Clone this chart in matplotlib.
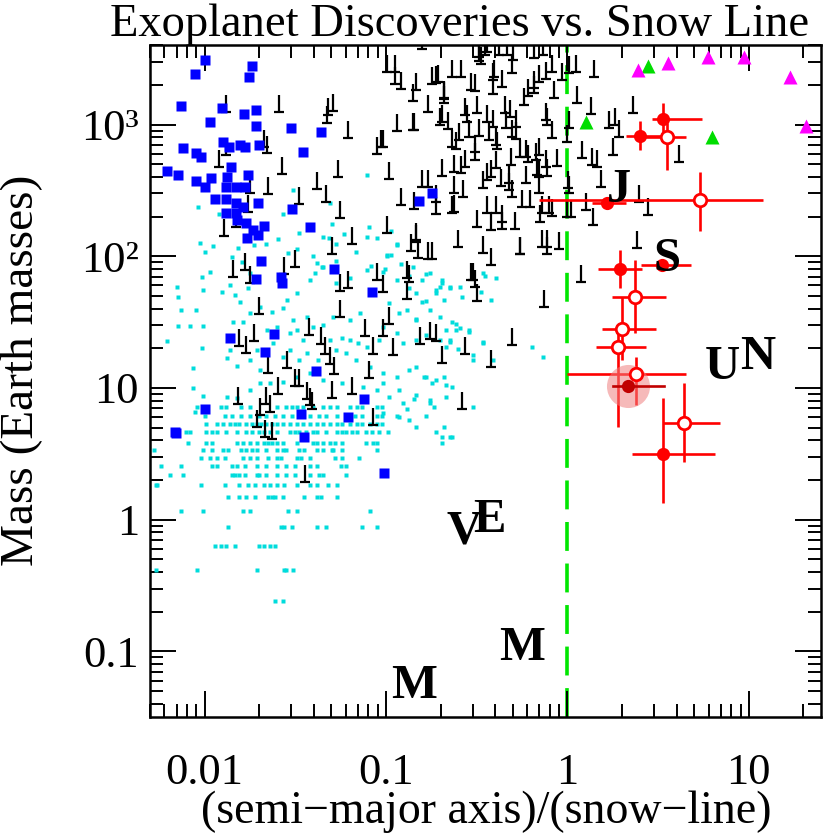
import numpy as np
import matplotlib
matplotlib.use("Agg")
from matplotlib import pyplot as plt
from matplotlib.path import Path
from matplotlib.ticker import NullFormatter, FixedLocator, LogLocator

plt.rcParams['font.family'] = ['Liberation Serif', 'DejaVu Serif']

# all positions are log10((semi-major axis)/(snow line)) and log10(mass / Earth masses)

#### Kepler candidates (cyan) : quantised rows + scatter ####
kep_row_logm = [-0.617, -0.382, -0.197, -0.053, 0.066, 0.170, 0.261, 0.339,
                0.408, 0.471, 0.529, 0.585, 0.668, 0.724, 0.790, 0.858]
kep_row_loga = [
    [-1.61, -1.57],
    [-2.27, -2.04, -1.71, -1.56, -1.55, -1.51],
    [-1.94, -1.91, -1.88, -1.83, -1.70, -1.67, -1.64, -1.61],
    [-1.87, -1.58, -1.56, -1.52, -1.38, -1.33, -1.13, -1.05],
    [-2.13, -2.01, -1.79, -1.75, -1.54, -1.49, -1.09],
    [-1.87, -1.81, -1.77, -1.72, -1.65, -1.63, -1.61, -1.57, -1.45, -1.38, -1.36, -1.27],
    [-2.27, -2.26, -2.02, -1.89, -1.81, -1.76, -1.72, -1.67, -1.64, -1.60, -1.56, -1.49,
     -1.42, -1.38, -1.32, -1.27],
    [-2.19, -2.12, -1.85, -1.83, -1.81, -1.78, -1.71, -1.70, -1.66, -1.60, -1.55, -1.50,
     -1.42, -1.37, -1.35, -1.22],
    [-2.24, -2.13, -1.96, -1.93, -1.85, -1.82, -1.78, -1.71, -1.66, -1.60, -1.55, -1.50,
     -1.42, -1.38, -1.25, -1.22],
    [-2.02, -1.97, -1.93, -1.89, -1.79, -1.75, -1.71, -1.65, -1.60, -1.58, -1.49, -1.47,
     -1.42, -1.28, -1.24, -1.15],
    [-2.28, -2.01, -1.96, -1.90, -1.87, -1.80, -1.77, -1.74, -1.71, -1.66, -1.60, -1.57,
     -1.55, -1.48, -1.45, -1.38, -1.35, -1.30, -1.29, -1.24, -1.05],
    [-2.09, -1.99, -1.96, -1.82, -1.79, -1.75, -1.71, -1.67, -1.65, -1.63, -1.60, -1.57,
     -1.49, -1.40, -1.38, -1.35, -1.31, -1.28, -1.24, -1.11, -1.07, -1.05],
    [-2.17, -2.10, -2.08, -1.99, -1.96, -1.93, -1.88, -1.82, -1.77, -1.74, -1.70, -1.67,
     -1.64, -1.60, -1.53, -1.50, -1.48, -1.44, -1.40, -1.38, -1.33, -1.27, -1.24, -1.22,
     -1.19, -1.16, -1.11, -1.08, -1.04, -0.99],
    [-1.99, -1.93, -1.90, -1.86, -1.83, -1.81, -1.77, -1.74, -1.71, -1.69, -1.66, -1.63,
     -1.60, -1.57, -1.53, -1.49, -1.46, -1.42, -1.38, -1.35, -1.31, -1.27, -1.24, -1.20,
     -1.16, -1.13, -1.09, -1.05, -1.02],
    [-2.00, -1.89, -1.85, -1.80, -1.75, -1.70, -1.66, -1.61, -1.57, -1.52, -1.47, -1.42,
     -1.37, -1.33, -1.27, -1.22, -1.17, -1.13, -1.05, -1.02],
    [-2.04, -1.91, -1.88, -1.80, -1.75, -1.60, -1.55, -1.52, -1.49, -1.46, -1.40, -1.35,
     -1.31, -1.27, -1.20, -1.16, -1.13, -1.05, -1.02],
]

kep_loga = [-2.154, -2.149, -2.132, -2.050, -2.149, -2.083, -2.011, -2.209, -2.017, -2.066,
            -2.066, -2.011, -2.055, -2.011, -1.906, -1.862, -1.835, -1.807, -1.763, -1.752,
            -1.697, -1.631, -1.570, -1.548, -1.488, -1.421, -1.350, -1.394, -1.846, -1.791,
            -1.879, -1.824, -1.862, -1.713, -1.697, -1.752, -1.532, -1.493, -1.460, -1.532,
            -1.570, -1.477, -1.438, -1.377, -1.311, -1.245, -1.201, -1.157, -1.273, -1.218,
            -1.163, -1.107, -1.036, -1.019, -0.942, -0.909, -0.832, -0.777, -0.705, -0.650,
            -0.612, -0.540, -0.468, -0.413, -1.091, -1.019, -0.942, -0.871, -0.832, -0.777,
            -0.744, -0.678, -0.667, -1.019, -0.926, -0.832, -0.760, -0.667, -0.909, -0.981,
            -1.052, -1.129, -1.240, -1.350, -1.421, -1.493, -1.570, -1.642, -1.752, -1.879,
            -1.824, -1.019, -0.937, -0.871, -0.777, -0.727, -0.689, -0.639, -0.694, -0.523,
            -0.193, -0.132, -0.391, -0.457, -0.689, -0.722, -0.579, -0.799, -0.832, -0.871,
            -0.942, -1.019, -1.107, -1.201, -1.273, -0.981, -0.926, -0.832, -0.705, -0.634,
            -0.760, -1.146, -1.201, -1.295, -1.350, -1.405, -1.438, -1.515, -1.603, -1.658,
            -1.625, -1.697,
            -2.039, -1.923, -1.510, -1.570, -1.311, -1.107, -1.300, -1.096, -0.970, -1.234,
            -2.028, -2.000, -1.956, -1.851, -1.818, -1.730, -1.664, -1.598, -1.477, -1.405,
            -1.350, -1.317, -1.273, -1.163, -1.107, -1.052, -0.997, -0.942, -0.915, -1.972,
            -2.017, -1.796, -1.752, -1.543, -1.493, -1.383, -1.355, -1.273, -1.085, -1.008,
            -0.854, -0.799, -0.705, -0.650, -0.760, -0.871,
            -0.942, -0.992, -0.970, -0.782, -0.694, -0.645, -0.590, -0.683, -0.727, -0.782,
            -0.887, -0.832, -0.667, -0.612, -0.590, -0.545, -0.645, -0.601, -0.518, -0.463,
            -0.463, -0.479, -0.424, -0.667, -0.722, -0.639, -0.793, -0.738, -0.755, -0.848,
            -0.887, -0.683, -0.645, -0.832, -0.926, -0.523]
kep_logm = [1.767, 1.691, 1.592, 1.592, 1.471, 1.471, 1.471, 1.357, 1.304, 1.152,
            1.000, 0.939, 0.818, 1.744, 1.729, 1.782, 1.706, 1.653, 1.759, 1.569,
            1.615, 1.577, 1.607, 1.668, 1.721, 1.820, 1.919, 1.873, 1.501, 1.501,
            1.228, 1.167, 1.289, 1.289, 1.137, 1.213, 1.418, 1.440, 1.364, 1.289,
            1.235, 1.213, 1.266, 1.213, 1.364, 1.380, 1.364, 1.342, 1.289, 1.266,
            1.213, 1.311, 1.364, 1.463, 1.418, 1.342, 1.364, 1.402, 1.364, 1.349,
            1.440, 1.440, 1.349, 1.213, 1.159, 1.114, 1.084, 1.137, 1.159, 1.084,
            1.038, 1.084, 1.023, 1.038, 0.985, 0.947, 0.886, 0.932, 0.886, 0.932,
            0.985, 1.008, 1.038, 1.061, 1.114, 1.084, 1.046, 1.038, 0.985, 0.932,
            0.924, 0.810, 0.787, 0.757, 0.787, 0.666, 0.628, 0.628, 0.582, 0.856,
            1.311, 1.235, 1.835, 1.850, 1.820, 1.744, 1.691, 1.653, 1.721, 1.759,
            1.820, 1.881, 1.896, 1.835, 1.797, 1.645, 1.569, 1.516, 1.539, 1.501,
            1.592, 1.569, 1.516, 1.539, 1.478, 1.463, 1.539, 1.516, 1.463, 1.440,
            1.342, 1.038,
            2.374, 2.321, 2.503, 2.321, 2.405, 2.617, 2.245, 2.222, 2.192, 2.169,
            2.101, 2.033, 2.078, 1.995, 2.063, 2.086, 2.093, 2.131, 2.177, 2.002,
            2.147, 2.139, 2.093, 2.033, 2.147, 2.139, 2.002, 2.086, 1.942, 1.881,
            1.843, 1.957, 1.873, 2.025, 2.055, 1.949, 1.919, 1.964, 1.926, 1.904,
            1.919, 1.820, 1.767, 1.767, 1.873, 1.850,
            2.093, 2.010, 2.010, 1.866, 1.797, 1.759, 1.767, 1.668, 1.721, 1.661,
            1.592, 1.524, 1.440, 1.486, 1.456, 1.425, 1.364, 1.296, 1.251, 1.342,
            1.873, 1.729, 1.668, 1.311, 1.061, 1.008, 1.084, 0.856, 0.909, 0.916,
            0.841, 0.704, 0.628, 0.704, 0.780, 1.213]

#### radial velocity planets (black, minimum mass) ####
rv_loga = [-1.884, -1.592, -1.295, -1.322, -1.328, -1.658, -1.675, -1.884, -1.923, -1.576,
           -1.267, -1.383, -1.333, -1.482, -1.653, -1.752, -1.251, -1.212, -1.895, -1.829,
           -1.763, -1.052, -1.025, -0.986, -0.953, -0.948, -0.920, -0.854, -0.771, -0.727,
           -0.683, -0.634, -0.584, -0.529, -0.567, -0.942, -0.854, -0.915, -0.843, -0.799,
           -0.766, -0.722, -0.694, -0.628, -0.573, -0.634, -0.992, -1.185, -1.300, -0.860,
           -0.832, -0.771, -0.601, -1.047, -0.887, -0.529, -1.207, -0.804, -0.997, -0.832,
           -0.744, -0.711, -0.678, -0.678, -0.512, -0.413, -0.413, -0.402, -0.358, -0.303,
           -0.298, -0.490, -0.485, -0.474, -0.457, -0.441, -0.375, -0.331, -0.187, -0.132,
           -0.083, -0.116, -0.154, -0.182, -0.187, -0.215, -0.242, -0.072, -0.028, 0.011,
           0.050, -0.689, -0.705, -0.661, -0.556, -0.496, -0.441, -0.408, -0.342, -0.314,
           -0.336, -0.281, -0.303, -0.281, -0.843, -1.019, -0.595, -0.540, -0.485, -0.430,
           -0.391, -0.386, -0.634, -0.612, -0.512, -0.226, -0.154, -0.116, -0.110, -0.083,
           -0.005, 0.011, -0.727, -0.623, -0.837, -0.821, -0.749, -0.496, -0.468, -0.424,
           -0.446, -0.419, -0.391, -0.358, -0.358, -0.287, -0.264, -0.320, -0.303, -0.253,
           -0.209, -0.149, -0.138, -0.099, -0.083, -0.138, -0.110, -0.110, -0.044, -0.004,
           0.011, -0.567, -0.512, -0.468, -0.446, -0.419, -0.391, -0.309, -0.264, -0.220,
           -0.171, -0.165, -0.116, -0.110, -0.055, -0.623, -0.584, -0.364, -0.320, -0.226,
           -0.154, -0.154, 0.003, -1.499, -1.565, -1.702, -1.730, -1.256, -1.256, -1.427,
           -1.361, -1.339, -1.311, -1.284, -1.548, -1.653, -1.504, -1.477, -1.598, -1.433,
           -1.421, -1.300, -1.642, -1.697, -1.190, -1.096, -1.118, -1.069, -1.019, -1.014,
           -0.887, -0.986, -0.959, -0.518, -0.507, -0.496, -0.815, -0.760, -0.727, -0.694,
           -0.562, -0.424, -0.579, -1.074, -1.631, -1.669, -1.713, -1.846, -1.780, -1.752,
           -1.813, -1.774, -1.818, -1.664, -1.444, -1.410, -0.303, -0.127, -0.259, -0.871,
           0.149, 0.364, 0.264, 0.287, 0.253, 0.617, 0.446, 0.397, 0.386, 0.077,
           0.132, 0.055, 0.022, 0.105, 0.143, 0.187, 0.165, 0.138, 0.083, 0.231]
rv_logm = [3.096, 3.096, 3.103, 3.073, 3.012, 2.784, 2.830, 2.769, 2.678, 2.625,
           2.602, 2.511, 2.412, 2.397, 2.473, 2.481, 2.291, 2.898, 2.154, 2.222,
           2.336, 2.777, 2.830, 2.587, 3.399, 3.308, 3.270, 3.179, 3.096, 3.316,
           3.194, 3.361, 3.361, 3.263, 3.073, 2.951, 2.959, 2.390, 2.359, 2.526,
           2.526, 2.412, 2.610, 2.481, 2.450, 2.329, 2.177, 2.093, 2.017, 2.040,
           2.109, 1.980, 2.071, 1.820, 1.835, 1.820, 1.759, 3.574, 3.399, 3.263,
           3.308, 3.323, 3.202, 3.164, 3.255, 3.232, 3.339, 3.361, 3.285, 3.392,
           3.491, 3.513, 3.483, 3.460, 3.528, 3.551, 3.528, 3.528, 3.506, 3.528,
           3.399, 3.346, 3.323, 3.278, 3.240, 3.217, 3.149, 3.202, 3.339, 3.392,
           3.399, 3.020, 2.997, 2.967, 3.020, 3.088, 3.020, 2.982, 3.088, 3.058,
           2.974, 2.982, 2.906, 2.891, 2.959, 2.830, 2.883, 2.906, 2.913, 2.883,
           2.845, 2.815, 2.830, 2.815, 2.792, 2.754, 2.769, 3.035, 2.997, 2.898,
           2.868, 2.974, 2.321, 2.336, 2.124, 1.987, 1.980, 2.222, 2.025, 1.934,
           2.329, 2.200, 2.329, 2.261, 2.207, 2.207, 2.017, 2.503, 2.450, 2.374,
           2.374, 2.261, 2.329, 2.329, 2.306, 2.071, 2.071, 2.017, 2.056, 2.298,
           2.481, 2.678, 2.731, 2.519, 2.579, 2.602, 2.670, 2.693, 2.754, 2.716,
           2.731, 2.617, 2.678, 2.610, 2.686, 2.640, 2.633, 2.534, 2.557, 2.557,
           2.602, 2.481, 2.519, 1.919, 1.866, 1.562, 1.357, 1.737, 1.539, 1.402,
           1.334, 1.258, 1.182, 1.106, 1.152, 1.114, 1.015, 1.015, 0.954, 0.916,
           0.871, 0.924, 0.818, 0.795, 0.954, 1.076, 1.395, 1.258, 1.395, 1.729,
           1.676, 1.486, 1.251, 1.820, 1.767, 1.661, 1.334, 1.372, 1.357, 1.190,
           1.258, 1.159, 0.841, 0.719, 0.613, 0.628, 0.704, 1.843, 1.896, 1.797,
           1.319, 1.266, 0.879, 0.879, 0.286, 0.841, 1.326, 1.615, 2.017, 1.805,
           3.361, 3.088, 2.997, 2.906, 2.769, 2.716, 2.313, 2.412, 2.063, 1.805,
           3.080, 3.164, 2.298, 2.352, 2.238, 2.526, 2.678, 2.693, 2.746, 2.974]

#### transiting planets (blue) ####
tr_loga = [-1.996, -1.737, -2.055, -1.756, -2.128, -1.902, -1.785, -1.715, -1.972, -1.715,
           -1.525, -1.359, -1.897, -2.121, -1.866, -1.803, -1.776, -1.699, -1.456, -2.046,
           -2.022, -1.853, -2.206, -2.149, -1.763, -1.965, -2.046, -1.875, -2.000, -1.884,
           -1.825, -1.780, -1.941, -1.880, -1.829, -1.706, -1.789, -1.880, -1.829, -1.822,
           -1.770, -1.675, -1.521, -1.420, -1.734, -1.706, -1.765, -0.745, -0.819, -1.691,
           -1.715, -1.577, -1.572, -1.288, -1.080, -1.862, -1.618, -1.666, -1.385, -1.996,
           -1.122, -1.471, -1.208, -2.165, -2.155, -1.453, -1.012]
tr_logm = [3.491, 3.445, 3.384, 3.364, 3.141, 3.126, 3.080, 3.111, 3.022, 2.989,
           2.972, 2.942, 2.870, 2.820, 2.828, 2.845, 2.832, 2.843, 2.790, 2.782,
           2.756, 2.680, 2.650, 2.615, 2.617, 2.595, 2.569, 2.604, 2.528, 2.528,
           2.528, 2.528, 2.433, 2.433, 2.402, 2.407, 2.377, 2.331, 2.327, 2.276,
           2.255, 2.230, 2.357, 2.225, 2.200, 2.162, 2.137, 2.478, 2.422, 1.964,
           1.825, 1.841, 1.795, 1.901, 1.731, 1.382, 1.408, 1.271, 1.129, 0.838,
           0.919, 0.800, 0.782, 0.668, 0.655, 0.630, 0.357]

#### imaging (triangles) ####
img_green_a = [1.26, 2.79, 6.29]
img_green_m = [1045, 2786, 805]
img_mag_a = [2.46, 3.60, 5.98, 9.44, 16.9, 20.7]
img_mag_m = [2600, 2939, 3261, 3261, 2301, 977]

#### microlensing (red) ####
ml_a = [3.38, 2.52, 3.56, 5.40, 1.66, 1.96, 3.34, 2.37, 2.01, 1.91, 2.40, 4.41, 3.38]
ml_a_lo = [2.94, 2.09, 2.60, 0.70, 1.36, 1.48, 2.56, 1.77, 1.56, 1.44, 1.00, 3.38, 2.28]
ml_a_hi = [5.54, 3.30, 4.52, 11.9, 2.11, 2.59, 4.82, 3.51, 3.09, 2.72, 4.52, 6.97, 6.54]
ml_m = [1101, 818, 805, 267, 253, 80, 85.7, 49, 28, 20.5, 12.8, 5.42, 3.16]
ml_m_lo = [834, 641, 452, 155, 253, 57, 85.7, 26, 16.3, 5.06, 7.4, 2.74, 1.34]
ml_m_hi = [1459, 1065, 1028, 436, 253, 112, 85.7, 94, 49, 27.6, 17.2, 10.9, 8.4]
ml_open = [0, 0, 1, 1, 0, 0, 0, 1, 1, 1, 1, 1, 0]
# highlighted event
hl_a, hl_a_lo, hl_a_hi, hl_m = 2.17, 1.79, 3.42, 10.4

#### solar system ####
ss_names = ["M", "V", "E", "M", "J", "S", "U", "N"]
ss_a_au = [0.387, 0.723, 1.0, 1.524, 5.20, 9.54, 19.2, 30.1]
ss_mass = [0.055, 0.815, 1.0, 0.107, 317.8, 95.2, 14.5, 17.1]
snow_line_au = 2.7


fig = plt.figure(figsize=(8.31, 8.34), dpi=100)
ax = fig.add_axes([0.1805, 0.1408, 0.8075, 0.8050])
ax.set_xscale('log')
ax.set_yscale('log')
ax.set_xlim(0.005, 25)
ax.set_ylim(0.032, 4000)

ax.axvline(1.0, color='#00e600', lw=2.6, ls=(0, (8, 3.5)), zorder=1)

kx = np.concatenate([np.array(r) for r in kep_row_loga] + [np.array(kep_loga)])
ky = np.concatenate([np.full(len(r), m) for r, m in zip(kep_row_loga, kep_row_logm)]
                    + [np.array(kep_logm)])
ax.plot(10**kx, 10**ky, 's', ms=3.0, color='#00dcdc', mec='none', zorder=2)

# "upside-down T" marker: bar at the minimum mass, stem pointing up
tee = Path([(-0.3, 0), (0.3, 0), (0, 0), (0, 1)],
           [Path.MOVETO, Path.LINETO, Path.MOVETO, Path.LINETO])
ax.plot(10**np.array(rv_loga), 10**np.array(rv_logm), ls='none', marker=tee, ms=24,
        mew=1.6, mec='k', mfc='none', zorder=3)

ax.plot(10**np.array(tr_loga), 10**np.array(tr_logm), 's', ms=7.8, color='#0000ff',
        mec='none', zorder=4)

ax.plot(img_green_a, img_green_m, '^', ms=10.5, color='#00dd00', mec='none', zorder=5)
ax.plot(img_mag_a, img_mag_m, '^', ms=10.5, color='#ff00ff', mec='none', zorder=5)

ml_a = np.array(ml_a)
ml_m = np.array(ml_m)
xerr = [ml_a - np.array(ml_a_lo), np.array(ml_a_hi) - ml_a]
yerr = [ml_m - np.array(ml_m_lo), np.array(ml_m_hi) - ml_m]
ax.errorbar(ml_a, ml_m, xerr=xerr, yerr=yerr, fmt='none', ecolor='#ff0000',
            elinewidth=1.9, capsize=0, zorder=6)
op = np.array(ml_open) == 1
ax.plot(ml_a[~op], ml_m[~op], 'o', ms=9.5, color='#ff0000', mec='none', zorder=7)
ax.plot(ml_a[op], ml_m[op], 'o', ms=9, mfc='white', mec='#ff0000', mew=2.0, zorder=7)

ax.plot([hl_a], [hl_m], 'o', ms=31, color='#f08080', alpha=0.55, mec='none', zorder=6)
ax.plot([hl_a_lo, hl_a_hi], [hl_m, hl_m], color='#c00000', lw=1.9, zorder=7)
ax.plot([hl_a], [hl_m], 'o', ms=9.5, color='#c00000', mec='none', zorder=7)

for name, a, m in zip(ss_names, ss_a_au, ss_mass):
    ax.text(a / snow_line_au, m, name, ha='center', va='center', fontsize=35,
            fontweight='bold', zorder=8)

ax.xaxis.set_major_locator(FixedLocator([0.01, 0.1, 1, 10]))
ax.set_xticklabels(["0.01", "0.1", "1", "10"])
ax.xaxis.set_minor_locator(LogLocator(base=10, subs=np.arange(2, 10)))
ax.xaxis.set_minor_formatter(NullFormatter())
ax.yaxis.set_major_locator(FixedLocator([0.1, 1, 10, 100, 1000]))
ax.set_yticklabels(["0.1", "1", "10", "10²", "10³"])
ax.yaxis.set_minor_locator(LogLocator(base=10, subs=np.arange(2, 10)))
ax.yaxis.set_minor_formatter(NullFormatter())

ax.tick_params(which='both', direction='in', top=True, right=True, width=1.4,
               labelsize=32)
ax.tick_params(which='major', length=18.5)
ax.tick_params(which='minor', length=9.3)
ax.tick_params(axis='x', pad=26)
ax.tick_params(axis='y', pad=8)
for s in ax.spines.values():
    s.set_linewidth(1.8)

fig.text(0.585, 0.0132, "(semi−major axis)/(snow−line)", ha='center', va='baseline',
         fontsize=33)
fig.text(0.0265, 0.5564, "Mass (Earth masses)", ha='center', va='center',
         rotation=90, fontsize=34)
fig.text(0.5535, 0.957, "Exoplanet Discoveries vs. Snow Line", ha='center',
         va='baseline', fontsize=33.5)

plt.savefig("out.png", dpi=100)
